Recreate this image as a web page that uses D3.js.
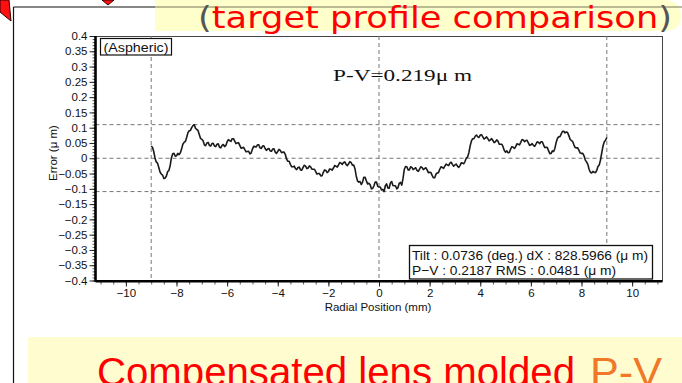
<!DOCTYPE html>
<html><head><meta charset="utf-8">
<script src="https://cdn.jsdelivr.net/npm/d3@7"></script>
<style>body{margin:0;background:#fff}svg{display:block}</style>
</head><body>
<svg id="c" width="682" height="383"></svg>
<script>
// Measured surface error of the molded aspheric lens, sampled every 0.05 mm from -9 mm to +9 mm
const xStart = -9;
const xStep = 0.05;
const errorValues = [
  0.040, 0.036, 0.022, 0.001,-0.012,-0.016,-0.030,-0.045,-0.052,-0.055,
 -0.066,-0.065,-0.058,-0.044,-0.040,-0.024, 0.002, 0.015, 0.016, 0.007,
  0.008, 0.016, 0.012, 0.017, 0.030, 0.046, 0.052, 0.055, 0.068, 0.083,
  0.090, 0.091, 0.100, 0.107, 0.110, 0.098, 0.094, 0.091, 0.078, 0.065,
  0.062, 0.057, 0.044, 0.041, 0.050, 0.052, 0.042, 0.040, 0.048, 0.049,
  0.040, 0.038, 0.046, 0.047, 0.036, 0.034, 0.042, 0.045, 0.038, 0.042,
  0.054, 0.061, 0.058, 0.055, 0.064, 0.064, 0.056, 0.048, 0.050, 0.051,
  0.042, 0.033, 0.034, 0.036, 0.028, 0.021, 0.022, 0.023, 0.014, 0.017,
  0.030, 0.039, 0.038, 0.037, 0.044, 0.044, 0.034, 0.032, 0.040, 0.041,
  0.032, 0.026, 0.030, 0.032, 0.024, 0.023, 0.030, 0.031, 0.020, 0.016,
  0.022, 0.029, 0.026, 0.018, 0.020, 0.020, 0.012,-0.003,-0.010,-0.010,
 -0.020,-0.028,-0.028,-0.026,-0.034,-0.037,-0.030,-0.029,-0.038,-0.039,
 -0.030,-0.023,-0.026,-0.034,-0.032,-0.025,-0.028,-0.036,-0.036,-0.036,
 -0.044,-0.052,-0.050,-0.050,-0.058,-0.057,-0.046,-0.038,-0.040,-0.047,
 -0.044,-0.035,-0.036,-0.039,-0.032,-0.024,-0.026,-0.029,-0.022,-0.014,
 -0.016,-0.020,-0.014,-0.012,-0.020,-0.024,-0.018,-0.011,-0.014,-0.023,
 -0.022,-0.034,-0.058,-0.074,-0.078,-0.076,-0.086,-0.078,-0.062,-0.062,
 -0.074,-0.084,-0.082,-0.087,-0.100,-0.099,-0.090,-0.078,-0.078,-0.092,
 -0.094,-0.094,-0.104,-0.102,-0.109,-0.090,-0.084,-0.097,-0.098,-0.081,
 -0.076,-0.089,-0.090,-0.090,-0.100,-0.096,-0.082,-0.079,-0.088,-0.066,
 -0.036,-0.027,-0.028,-0.038,-0.038,-0.028,-0.030,-0.037,-0.034,-0.031,
 -0.040,-0.043,-0.036,-0.028,-0.030,-0.037,-0.034,-0.031,-0.038,-0.047,
 -0.046,-0.047,-0.056,-0.064,-0.064,-0.052,-0.048,-0.047,-0.036,-0.028,
 -0.030,-0.033,-0.026,-0.019,-0.022,-0.024,-0.016,-0.013,-0.020,-0.026,
 -0.022,-0.019,-0.026,-0.030,-0.024,-0.015,-0.016,-0.018,-0.010, 0.001,
  0.004, 0.018, 0.040, 0.056, 0.064, 0.064, 0.072, 0.076, 0.070, 0.068,
  0.076, 0.077, 0.070, 0.063, 0.066, 0.070, 0.064, 0.057, 0.060, 0.064,
  0.058, 0.051, 0.054, 0.060, 0.056, 0.046, 0.046, 0.046, 0.038, 0.025,
  0.020, 0.024, 0.018, 0.019, 0.030, 0.038, 0.036, 0.032, 0.038, 0.047,
  0.046, 0.044, 0.052, 0.061, 0.060, 0.054, 0.058, 0.059, 0.050, 0.042,
  0.044, 0.048, 0.042, 0.039, 0.046, 0.054, 0.052, 0.048, 0.054, 0.054,
  0.044, 0.035, 0.036, 0.035, 0.024, 0.015, 0.016, 0.024, 0.022, 0.033,
  0.052, 0.065, 0.070, 0.071, 0.080, 0.088, 0.088, 0.083, 0.086, 0.084,
  0.074, 0.062, 0.058, 0.055, 0.044, 0.035, 0.034, 0.034, 0.026, 0.017,
  0.016, 0.016, 0.008,-0.006,-0.012,-0.020,-0.036,-0.046,-0.048,-0.043,
 -0.046,-0.047,-0.040,-0.027,-0.022,-0.006, 0.018, 0.040, 0.054, 0.059,
  0.068
];
const xTickValues = [-10, -8, -6, -4, -2, 0, 2, 4, 6, 8, 10];
const yTickValues = [0.4, 0.35, 0.3, 0.25, 0.2, 0.15, 0.1, 0.05, 0,
  -0.05, -0.1, -0.15, -0.2, -0.25, -0.3, -0.35, -0.4];
const yTickLabels = ["0.4", "0.35", "0.3", "0.25", "0.2", "0.15", "0.1", "0.05", "0",
  "−0.05", "−0.1", "−0.15", "−0.2", "−0.25", "−0.3", "−0.35", "−0.4"];
const vGridValues = [-9, 0, 9];
const statsLines = [
  "Tilt : 0.0736 (deg.) dX : 828.5966 (μ m)",
  "P−V : 0.2187 RMS : 0.0481 (μ m)"
];
const statsWidths = [236, 204];
const pvLabel = "P-V=0.219μ m";
const headline = "target profile comparison";
const footerMain = "Compensated lens molded";
const footerTail = "P-V";

const svg = d3.select("#c");
const chartFont = "'Liberation Sans', Arial, sans-serif";
const slideFont = "'DejaVu Sans', Verdana, sans-serif";

// ---------- slide decoration ----------
svg.append("rect").attr("x", 0).attr("y", 0).attr("width", 682).attr("height", 383).attr("fill", "#fff");
// headline banner
svg.append("path")
  .attr("d", "M155,0 H664 Q681,0 681,16 Q681,31 664,31 H155 Z")
  .attr("fill", "#ffffcc");
// footer band
svg.append("rect").attr("x", 28).attr("y", 337).attr("width", 654).attr("height", 46).attr("fill", "#fffdd0");
// slide frame
svg.append("line").attr("x1", 13.5).attr("x2", 155).attr("y1", 7).attr("y2", 7).attr("stroke", "#111").attr("stroke-width", 1.2);
svg.append("line").attr("x1", 155).attr("x2", 682).attr("y1", 7).attr("y2", 7).attr("stroke", "#77775a").attr("stroke-width", 1.2);
svg.append("line").attr("x1", 13.5).attr("x2", 13.5).attr("y1", 7).attr("y2", 383).attr("stroke", "#111").attr("stroke-width", 1.2);
// callout arrow tips
svg.append("polygon").attr("points", "0,0 9,0 11,21 0,12").attr("fill", "#ff1010").attr("stroke", "#300").attr("stroke-width", 1);
svg.append("polygon").attr("points", "102,0 114,0 108,5").attr("fill", "#ff1010").attr("stroke", "#300").attr("stroke-width", 1);

const head = svg.append("text")
  .attr("x", 198).attr("y", 28)
  .attr("font-family", slideFont).attr("font-size", 29.5)
  .attr("textLength", 474).attr("lengthAdjust", "spacingAndGlyphs");
head.append("tspan").attr("fill", "#555").text("(");
head.append("tspan").attr("fill", "#ff0000").text(headline);
head.append("tspan").attr("fill", "#555").text(")");

svg.append("text")
  .attr("x", 97).attr("y", 386)
  .attr("font-family", chartFont).attr("font-size", 41).attr("fill", "#ff0000")
  .attr("textLength", 478).attr("lengthAdjust", "spacingAndGlyphs")
  .text(footerMain);
svg.append("text")
  .attr("x", 590).attr("y", 386)
  .attr("font-family", chartFont).attr("font-size", 41).attr("fill", "#f07828")
  .attr("textLength", 72).attr("lengthAdjust", "spacingAndGlyphs")
  .text(footerTail);

// ---------- chart ----------
const x = d3.scaleLinear().domain([-11.2, 11.2]).range([95.5, 662.5]);
const y = d3.scaleLinear().domain([-0.4, 0.4]).range([280.5, 36]);
const [x0, x1] = x.range();
const [yB, yT] = y.range();

// plot frame (thin top/right)
svg.append("rect").attr("x", x0).attr("y", yT + 0.5).attr("width", x1 - x0).attr("height", yB - yT)
  .attr("fill", "none").attr("stroke", "#444").attr("stroke-width", 1);

// dashed reference lines: extremes, zero, and measurement span
const hGridValues = [d3.max(errorValues), 0, d3.min(errorValues)];
const grid = svg.append("g").attr("stroke", "#777").attr("stroke-width", 1).attr("stroke-dasharray", "4,3");
grid.selectAll("line.h").data(hGridValues).join("line").attr("class", "h")
  .attr("x1", x0).attr("x2", x1).attr("y1", d => y(d)).attr("y2", d => y(d));
grid.selectAll("line.v").data(vGridValues).join("line").attr("class", "v")
  .attr("x1", d => x(d)).attr("x2", d => x(d)).attr("y1", yT).attr("y2", yB);

// profile trace
const pts = errorValues.map((v, i) => [xStart + i * xStep, v]);
svg.append("path").datum(pts)
  .attr("fill", "none").attr("stroke", "#1a1a1a").attr("stroke-width", 1.6).attr("stroke-linejoin", "round")
  .attr("d", d3.line().x(d => x(d[0])).y(d => y(d[1])));

// y axis
const yMinor = svg.append("g").attr("transform", `translate(${x0},0)`)
  .call(d3.axisLeft(y).tickValues(d3.range(-40, 41).map(i => i / 100)).tickSize(3).tickFormat(""));
yMinor.select(".domain").remove();
yMinor.selectAll("line").attr("stroke", "#333").attr("stroke-width", 0.8);
const yAxis = svg.append("g").attr("transform", `translate(${x0},0)`)
  .call(d3.axisLeft(y).tickValues(yTickValues).tickSize(6).tickPadding(2)
    .tickFormat((d, i) => yTickLabels[i]));
yAxis.select(".domain").remove();
yAxis.selectAll("line").attr("stroke", "#222");
yAxis.selectAll("text").attr("font-family", chartFont).attr("font-size", 11.5).attr("fill", "#111");

// x axis
const xMinor = svg.append("g").attr("transform", `translate(0,${yB})`)
  .call(d3.axisBottom(x).tickValues(d3.range(-22, 23).map(i => i / 2)).tickSize(4).tickFormat(""));
xMinor.select(".domain").remove();
xMinor.selectAll("line").attr("stroke", "#333").attr("stroke-width", 0.8);
const xAxis = svg.append("g").attr("transform", `translate(0,${yB})`)
  .call(d3.axisBottom(x).tickValues(xTickValues).tickSize(6).tickPadding(2)
    .tickFormat(d => d < 0 ? "−" + Math.abs(d) : String(d)));
xAxis.select(".domain").remove();
xAxis.selectAll("line").attr("stroke", "#222");
xAxis.selectAll("text").attr("font-family", chartFont).attr("font-size", 11.5).attr("fill", "#111");

// thick left and bottom axis lines
svg.append("line").attr("x1", x0).attr("x2", x0).attr("y1", yT).attr("y2", yB + 1.2)
  .attr("stroke", "#000").attr("stroke-width", 2.6);
svg.append("line").attr("x1", x0).attr("x2", x1).attr("y1", yB + 0.8).attr("y2", yB + 0.8)
  .attr("stroke", "#000").attr("stroke-width", 2.6);

// axis titles
svg.append("text").attr("transform", "translate(57,153) rotate(-90)")
  .attr("text-anchor", "middle").attr("font-family", chartFont).attr("font-size", 11.5).attr("fill", "#111")
  .text("Error (μ m)");
svg.append("text").attr("x", 378).attr("y", 311)
  .attr("text-anchor", "middle").attr("font-family", chartFont).attr("font-size", 11.5).attr("fill", "#111")
  .text("Radial Position (mm)");

// sample tag
svg.append("rect").attr("x", 100.5).attr("y", 38.5).attr("width", 71).attr("height", 16.5)
  .attr("fill", "#fff").attr("stroke", "#111").attr("stroke-width", 1.2);
svg.append("text").attr("x", 103.5).attr("y", 51.5)
  .attr("font-family", chartFont).attr("font-size", 12.5).attr("fill", "#111")
  .attr("textLength", 65).attr("lengthAdjust", "spacingAndGlyphs").text("(Aspheric)");

// P-V annotation
svg.append("text").attr("x", 333).attr("y", 81)
  .attr("font-family", "'Liberation Serif', 'DejaVu Serif', serif").attr("font-size", 17).attr("fill", "#111")
  .attr("textLength", 139).attr("lengthAdjust", "spacingAndGlyphs").text(pvLabel);

// measurement statistics box
svg.append("rect").attr("x", 409.5).attr("y", 245.5).attr("width", 243).attr("height", 33.5)
  .attr("fill", "#fff").attr("stroke", "#111").attr("stroke-width", 1.3);
svg.selectAll("text.stat").data(statsLines).join("text").attr("class", "stat")
  .attr("x", 412).attr("y", (d, i) => 260 + i * 14.5)
  .attr("font-family", chartFont).attr("font-size", 13).attr("fill", "#111")
  .attr("textLength", (d, i) => statsWidths[i]).attr("lengthAdjust", "spacingAndGlyphs")
  .text(d => d);
</script>
</body></html>
